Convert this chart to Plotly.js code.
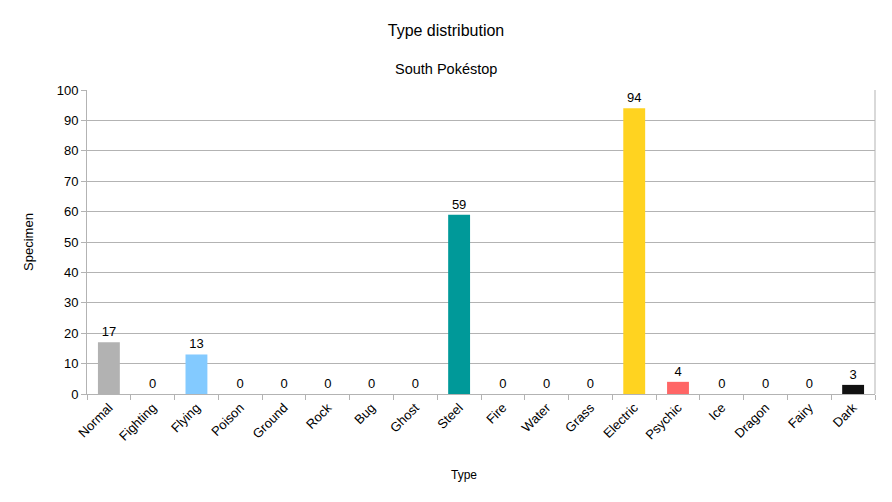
<!DOCTYPE html>
<html>
<head>
<meta charset="utf-8">
<script src="https://cdn.plot.ly/plotly-3.0.1.min.js"></script>
<style>html,body{margin:0;padding:0;background:#fff;}#chart{width:892px;height:502px;}</style>
</head>
<body>
<div id="chart"></div>
<script>
const categories = ["Normal","Fighting","Flying","Poison","Ground","Rock","Bug","Ghost","Steel","Fire","Water","Grass","Electric","Psychic","Ice","Dragon","Fairy","Dark"];
const specimens = [17,0,13,0,0,0,0,0,59,0,0,0,94,4,0,0,0,3];
const barColors = ["#b2b2b2","#b2b2b2","#83caff","#b2b2b2","#b2b2b2","#b2b2b2","#b2b2b2","#b2b2b2","#009999","#b2b2b2","#b2b2b2","#b2b2b2","#ffd320","#ff6666","#b2b2b2","#b2b2b2","#b2b2b2","#111111"];
const yTicks = [0,10,20,30,40,50,60,70,80,90,100];

const font = "Liberation Sans, Arial, sans-serif";
const W = 892, H = 502;
const plotLeft = 87, plotRight = 875, plotTop = 90, plotBottom = 394;
const plotW = plotRight - plotLeft, plotH = plotBottom - plotTop;
const px = x => (x - plotLeft) / plotW;
const py = y => (plotBottom - y) / plotH;
const trace = {
  type: "bar",
  x: categories,
  y: specimens,
  marker: {color: barColors},
  text: specimens.map(String),
  textposition: "outside",
  cliponaxis: false,
  textfont: {family: font, size: 13, color: "#000"},
  hoverinfo: "x+y"
};
const layout = {
  width: W, height: H,
  margin: {l: plotLeft, r: W - plotRight, t: plotTop, b: H - plotBottom},
  paper_bgcolor: "#fff", plot_bgcolor: "#fff",
  font: {family: font, size: 12, color: "#000"},
  showlegend: false,
  bargap: 0.5,
  title: {text: "Type distribution", font: {family: font, size: 16, color: "#000"}, x: 0.5, xanchor: "center", y: 1 - 30/H, yanchor: "middle", yref: "container"},
  annotations: [
    {text: "South Pok\u00e9stop", xref: "paper", yref: "paper", x: px(446), y: py(69), xanchor: "center", yanchor: "middle", showarrow: false, font: {family: font, size: 14.5, color: "#000"}},
    {text: "Type", xref: "paper", yref: "paper", x: px(464), y: py(475), xanchor: "center", yanchor: "middle", showarrow: false, font: {family: font, size: 12, color: "#000"}}
  ],
  xaxis: {
    type: "category",
    tickangle: -45,
    tickson: "boundaries",
    ticks: "outside", ticklen: 5, tickcolor: "#b3b3b3",
    showline: true, linecolor: "#b3b3b3", linewidth: 1,
    mirror: false,
    showgrid: false,
    tickfont: {family: font, size: 13, color: "#000"}
  },
  yaxis: {
    range: [0, 100],
    tickvals: yTicks,
    ticks: "outside", ticklen: 5, tickcolor: "#b3b3b3",
    showline: true, linecolor: "#b3b3b3", linewidth: 1,
    showgrid: true, gridcolor: "#b3b3b3", gridwidth: 1,
    zeroline: false,
    tickfont: {family: font, size: 13, color: "#000"},
    title: {text: "Specimen", font: {family: font, size: 13, color: "#000"}, standoff: 20}
  },
  shapes: [{type: "line", xref: "paper", yref: "paper", x0: 1, x1: 1, y0: 0, y1: 1, line: {color: "#b3b3b3", width: 1}}]
};
Plotly.newPlot("chart", [trace], layout, {displayModeBar: false, staticPlot: true});
</script>
</body>
</html>
